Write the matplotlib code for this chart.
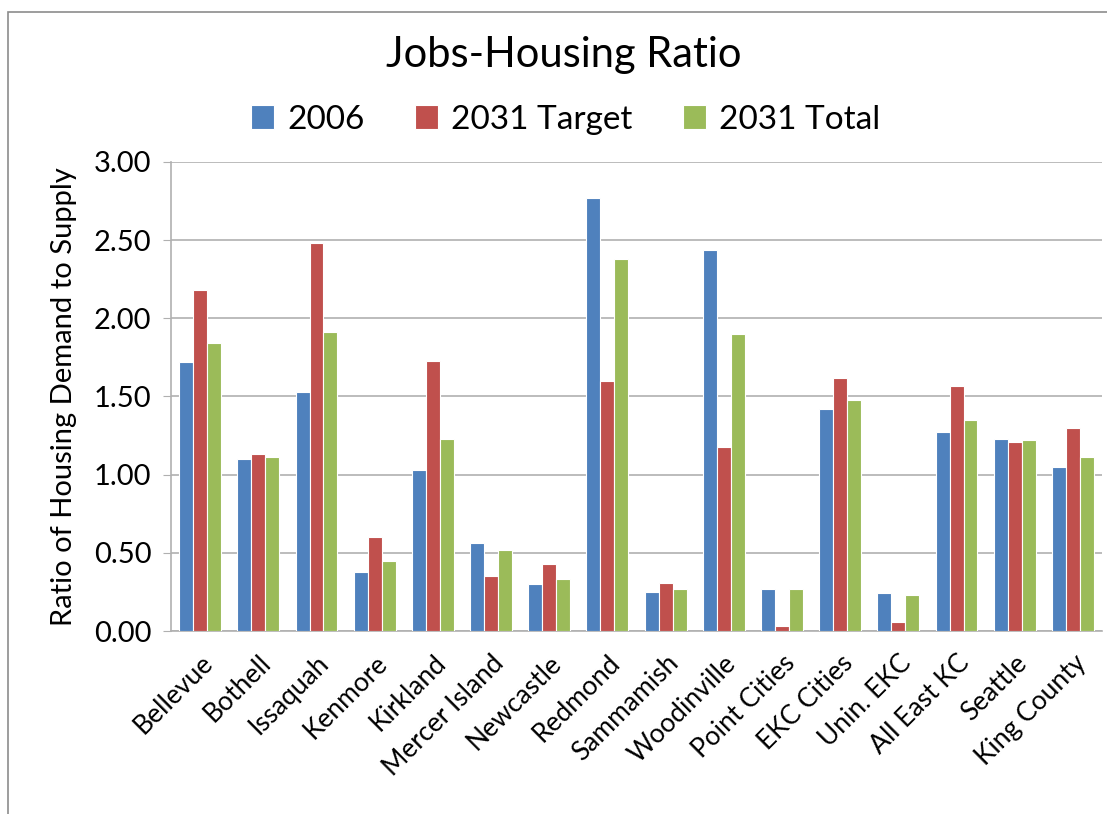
"""
Jobs-Housing Ratio grouped bar chart (Excel-style look).
"""
import numpy as np
import matplotlib
matplotlib.use('Agg')
import matplotlib.pyplot as plt
from matplotlib.patches import Rectangle

plt.rcParams['font.family'] = ['Lato', 'DejaVu Sans']

# Data
places = ["Bellevue", "Bothell", "Issaquah", "Kenmore", "Kirkland",
          "Mercer Island", "Newcastle", "Redmond", "Sammamish", "Woodinville",
          "Point Cities", "EKC Cities", "Unin. EKC", "All East KC", "Seattle",
          "King County"]
series_names = ["2006", "2031 Target", "2031 Total"]
ratio_2006 = [1.72, 1.10, 1.53, 0.38, 1.03, 0.56, 0.30, 2.77, 0.25, 2.44,
              0.27, 1.42, 0.24, 1.27, 1.23, 1.05]
ratio_2031_target = [2.18, 1.13, 2.48, 0.60, 1.73, 0.35, 0.43, 1.60, 0.31, 1.18,
                     0.03, 1.62, 0.06, 1.57, 1.21, 1.30]
ratio_2031_total = [1.84, 1.11, 1.91, 0.45, 1.23, 0.52, 0.33, 2.38, 0.27, 1.90,
                    0.27, 1.48, 0.23, 1.35, 1.22, 1.11]
colors = ["#4F81BD", "#C0504D", "#9BBB59"]

fig = plt.figure(figsize=(11.07, 8.14), dpi=100)

# outer chart frame (screenshot border)
fig.patches.append(Rectangle((8 / 1107, -0.05), 1.2, 1 - 12 / 814 + 0.05,
                             transform=fig.transFigure, fill=False,
                             edgecolor="#8C8C8C", linewidth=1.2))

ax = fig.add_axes([0.1545, 0.2248, 0.841, 0.5762])

x = np.arange(len(places))
width = 0.24
for i, (vals, name) in enumerate(zip([ratio_2006, ratio_2031_target, ratio_2031_total],
                                     series_names)):
    ax.bar(x + (i - 1) * width, vals, width, color=colors[i], label=name,
           edgecolor="white", linewidth=0.8, zorder=3)

ax.set_xlim(-0.5, len(places) - 0.5)
ax.set_ylim(0, 3.0)
ax.set_yticks(np.arange(0, 3.01, 0.5))
ax.set_yticklabels([f"{v:.2f}" for v in np.arange(0, 3.01, 0.5)], fontsize=21)
ax.set_xticks(x)
ax.set_xticklabels(places, rotation=45, ha="right", rotation_mode="anchor",
                   fontsize=19)
ax.tick_params(axis="x", length=0, pad=14)
ax.tick_params(axis="y", length=6, color="#B0B0B0", pad=8)
ax.grid(axis="y", color="#B0B0B0", linewidth=1.2, zorder=0)
for side in ["top", "right"]:
    ax.spines[side].set_visible(False)
for side in ["left", "bottom"]:
    ax.spines[side].set_color("#B0B0B0")
    ax.spines[side].set_linewidth(1.2)

ax.set_ylabel("Ratio of Housing Demand to Supply", fontsize=21, labelpad=12)

fig.text(0.509, 0.932, "Jobs-Housing Ratio", ha="center", va="center", fontsize=30)
fig.legend(loc="center", bbox_to_anchor=(0.511, 0.853), ncol=3, frameon=False,
           fontsize=24, handlelength=0.7, handleheight=0.7, handletextpad=0.4,
           columnspacing=1.5)

plt.savefig("out.png", dpi=100)
plt.close()
